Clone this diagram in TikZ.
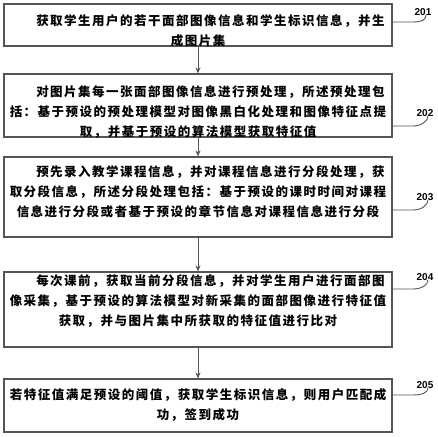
\documentclass[tikz,border=0pt]{standalone}
\usepackage{fontspec}
\newfontfamily\cjk{Noto Sans CJK SC}[LetterSpace=12]
\newfontfamily\numf{Liberation Sans}
\usetikzlibrary{arrows.meta}
\definecolor{ln}{RGB}{85,85,85}
\begin{document}
\begin{tikzpicture}[x=1pt,y=-1pt,
  boxst/.style={draw=ln,line width=1.1pt,rectangle,inner sep=0pt,minimum width=388pt},
  txt/.style={inner sep=0pt,align=center,font=\cjk\bfseries\fontsize{12.5}{20}\selectfont},
  lbl/.style={inner sep=0pt,font=\numf\bfseries\fontsize{10}{10}\selectfont},
  arr/.style={draw=ln,line width=1pt,-{Stealth[length=6pt,width=5pt]}},
  lead/.style={draw=ln,line width=0.9pt}]
\useasboundingbox (0,0) rectangle (438,436);
\fill[white] (0,0) rectangle (438,436);
% boxes
\node[boxst,minimum height=42pt] (b1) at (198,25) {};
\node[boxst,minimum height=63pt] (b2) at (198,105.5) {};
\node[boxst,minimum height=80pt] (b3) at (198,197) {};
\node[boxst,minimum height=75pt] (b4) at (198,309.5) {};
\node[boxst,minimum height=53pt] (b5) at (198,405.5) {};
% texts
\node[txt] (t1) at (198,31) {\hspace*{2em}获取学生用户的若干面部图像信息和学生标识信息，并生\\成图片集};
\node[txt] (t2) at (198,112) {\hspace*{2em}对图片集每一张面部图像信息进行预处理，所述预处理包\\括：基于预设的预处理模型对图像黑白化处理和图像特征点提\\取，并基于预设的算法模型获取特征值};
\node[txt] (t3) at (198,191.5) {\hspace*{2em}预先录入教学课程信息，并对课程信息进行分段处理，获\\取分段信息，所述分段处理包括：基于预设的课时时间对课程\\信息进行分段或者基于预设的章节信息对课程信息进行分段};
\node[txt] (t4) at (198,301) {\hspace*{2em}每次课前，获取当前分段信息，并对学生用户进行面部图\\像采集，基于预设的算法模型对新采集的面部图像进行特征值\\获取，并与图片集中所获取的特征值进行比对};
\node[txt] (t5) at (198,405.5) {若特征值满足预设的阈值，获取学生标识信息，则用户匹配成\\功，签到成功};
% arrows
\draw[arr] (b1.south) -- (b2.north);
\draw[arr] (b2.south) -- (b3.north);
\draw[arr] (b3.south) -- (b4.north);
\draw[arr] (b4.south) -- (b5.north);
% labels
\node[lbl] (n1) at (423,12) {201};
\node[lbl] (n2) at (425,113) {202};
\node[lbl] (n3) at (425,197) {203};
\node[lbl] (n4) at (425,277) {204};
\node[lbl] (n5) at (425,385) {205};
\coordinate (s1) at (392,22);
\coordinate (s2) at (392,126);
\coordinate (s3) at (392,210);
\coordinate (s4) at (392,289);
\coordinate (s5) at (392,395);
\foreach \i in {1,...,5}{
  \draw[lead] (s\i) -- ++(21,0) .. controls +(9,0) and +(0,5) .. ([xshift=3pt,yshift=1pt]n\i.south);
}
\end{tikzpicture}
\end{document}
